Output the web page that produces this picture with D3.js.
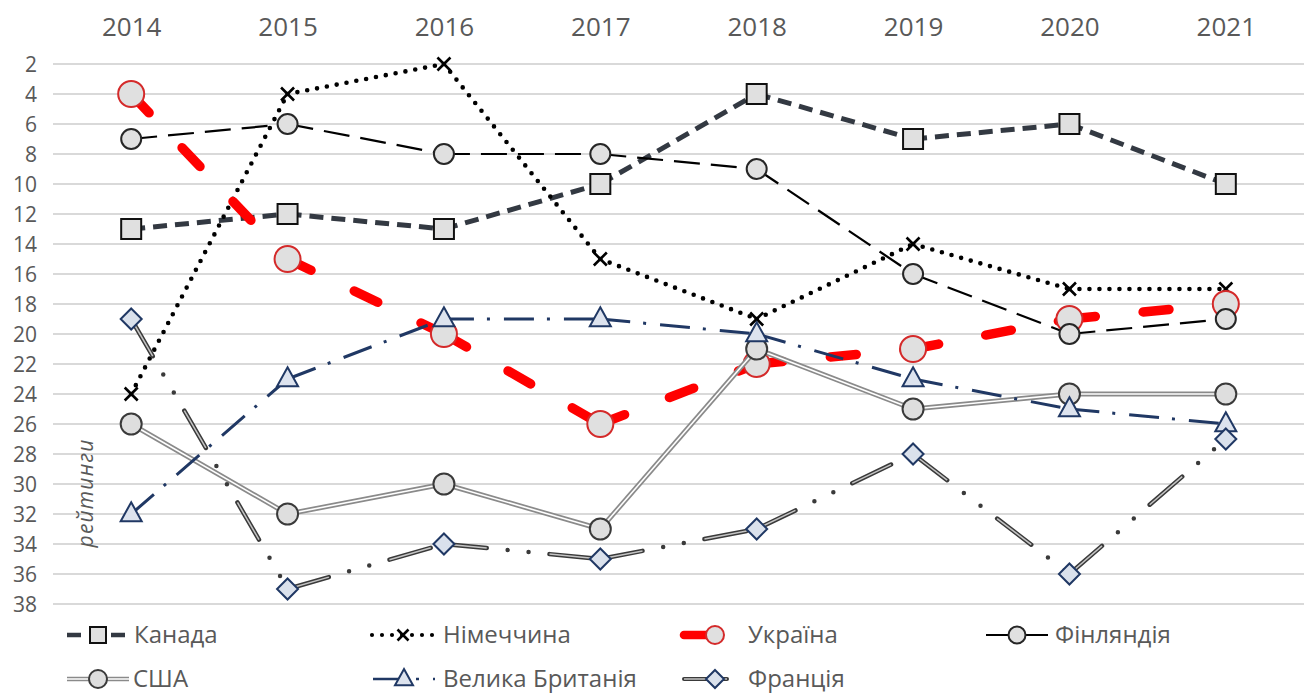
<!DOCTYPE html>
<html><head><meta charset="utf-8">
<script src="https://cdn.jsdelivr.net/npm/d3@7"></script>
<style>
html,body{margin:0;padding:0;background:#fff;}
svg{display:block;font-family:"Open Sans",sans-serif;}
</style></head>
<body>
<svg id="chart" width="1311" height="695"></svg>
<script>
const years = ["2014","2015","2016","2017","2018","2019","2020","2021"];
const yTicks = [2,4,6,8,10,12,14,16,18,20,22,24,26,28,30,32,34,36,38];
const seriesNames = ["Канада","Німеччина","Україна","Фінляндія","США","Велика Британія","Франція"];
const canada  = [13,12,13,10,4,7,6,10];
const germany = [24,4,2,15,19,14,17,17];
const ukraine = [4,15,20,26,22,21,19,18];
const finland = [7,6,8,8,9,16,20,19];
const usa     = [26,32,30,33,21,25,24,24];
const uk      = [32,23,19,19,20,23,25,26];
const france  = [19,37,34,35,33,28,36,27];
const yLabel = "рейтинги";

const values = [canada, germany, ukraine, finland, usa, uk, france];

const styles = [
  {layers:[{stroke:"#333942",width:5,dash:"14,8",cap:"butt"}], marker:"square", mfill:"#e0e0e0", mstroke:"#111", msize:20, lsize:16},
  {layers:[{stroke:"#000",width:4.6,dash:"0,10",cap:"round"}], marker:"x", mstroke:"#000", msize:13, lsize:11},
  {layers:[{stroke:"#ff0000",width:9.5,dash:"26,48",cap:"round"}], marker:"circle", mfill:"#e0e0e0", mstroke:"#d42a2a", msize:13, lsize:9},
  {layers:[{stroke:"#000",width:2.2,dash:"26,11",cap:"butt"}], marker:"circle", mfill:"#e0e0e0", mstroke:"#262626", msize:10, lsize:8.5},
  {layers:[{stroke:"#8a8a8a",width:5,dash:null,cap:"butt"},{stroke:"#fff",width:1.6,dash:null,cap:"butt"}], marker:"circle", mfill:"#dedede", mstroke:"#3a3a3a", msize:10.5, lsize:9},
  {layers:[{stroke:"#203864",width:3,dash:"30,13,3,14",cap:"butt"}], marker:"triangle", mfill:"#dde3ee", mstroke:"#203864", msize:21, lsize:18},
  {layers:[{stroke:"#3a3a3a",width:4.5,dash:"43,21,0,21,0,21",cap:"round"},{stroke:"#c4c4c4",width:1.5,dash:"43,21,0,21,0,21",cap:"butt"}], marker:"diamond", mfill:"#dae1ec", mstroke:"#203864", msize:21, lsize:18}
];

const svg = d3.select("#chart");
const x = d3.scalePoint().domain(years).range([53,1304]).padding(0.5);
const y = d3.scaleLinear().domain([2,38]).range([64,604]);

// gridlines
svg.append("g").selectAll("line").data(yTicks).join("line")
  .attr("x1",53).attr("x2",1304)
  .attr("y1",d=>y(d)).attr("y2",d=>y(d))
  .attr("stroke","#d9d9d9").attr("stroke-width",2);

// top axis
const gx = svg.append("g").attr("transform","translate(0,36)")
  .call(d3.axisTop(x).tickSize(0).tickPadding(0));
gx.select(".domain").remove();
gx.selectAll("text").attr("font-size",26).attr("fill","#595959")
  .attr("font-family","Open Sans").attr("dy","0");

// left axis
const gy = svg.append("g").attr("transform","translate(37,0)")
  .call(d3.axisLeft(y).tickValues(yTicks).tickSize(0).tickPadding(0));
gy.select(".domain").remove();
gy.selectAll("text").attr("font-size",21).attr("fill","#595959")
  .attr("font-family","Open Sans").attr("dy","0.36em");

// y label
svg.append("text").attr("transform","translate(93,493) rotate(-90)")
  .attr("text-anchor","middle").attr("font-size",21).attr("font-style","italic")
  .attr("letter-spacing",1.2)
  .attr("fill","#595959").text(yLabel);

function markerPath(type,s){
  if(type==="square") return `M${-s/2},${-s/2}h${s}v${s}h${-s}Z`;
  if(type==="triangle"){const h=s*0.9; return `M0,${-h*0.62}L${s/2},${h*0.38}L${-s/2},${h*0.38}Z`;}
  if(type==="diamond") return `M0,${-s/2}L${s/2},0L0,${s/2}L${-s/2},0Z`;
  if(type==="x") return `M${-s/2},${-s/2}L${s/2},${s/2}M${s/2},${-s/2}L${-s/2},${s/2}`;
  return null;
}
function drawMarker(g,st,cx,cy,size){
  if(st.marker==="circle"){
    g.append("circle").attr("cx",cx).attr("cy",cy).attr("r",size)
      .attr("fill",st.mfill).attr("stroke",st.mstroke).attr("stroke-width",2);
  } else if(st.marker==="x"){
    g.append("path").attr("transform",`translate(${cx},${cy})`).attr("d",markerPath("x",size))
      .attr("stroke",st.mstroke).attr("stroke-width",2.6).attr("fill","none");
  } else {
    g.append("path").attr("transform",`translate(${cx},${cy})`).attr("d",markerPath(st.marker,size))
      .attr("fill",st.mfill).attr("stroke",st.mstroke).attr("stroke-width",2).attr("stroke-linejoin","miter");
  }
}
const line = d3.line();

values.forEach((vals,si)=>{
  const st = styles[si];
  const g = svg.append("g");
  const pts = vals.map((v,i)=>[x(years[i]),y(v)]);
  st.layers.forEach(L=>{
    for(let i=0;i<pts.length-1;i++){
      g.append("path").attr("d",line([pts[i],pts[i+1]]))
        .attr("fill","none").attr("stroke",L.stroke).attr("stroke-width",L.width)
        .attr("stroke-dasharray",L.dash).attr("stroke-linecap",L.cap);
    }
  });
  pts.forEach(p=>drawMarker(g,st,p[0],p[1],st.msize));
});

// legend: [symbol centre x, row y, text x]
const legendPos = [[98,635,134],[403,635,443],[715,635,748],[1017,635,1055],[98,679,133],[404,679,443],[715,679,748]];
seriesNames.forEach((name,si)=>{
  const st = styles[si];
  const [cx,ly,tx] = legendPos[si];
  const g = svg.append("g");
  st.layers.forEach(L=>{
    g.append("path").attr("d",line([[cx-31,ly],[cx+31,ly]]))
      .attr("fill","none").attr("stroke",L.stroke).attr("stroke-width",L.width*0.9)
      .attr("stroke-dasharray",L.dash)
      .attr("stroke-linecap",L.cap);
  });
  drawMarker(g,st,cx,ly,st.lsize);
  g.append("text").attr("x",tx).attr("y",ly).attr("dy","0.35em")
    .attr("font-size",24).attr("fill","#595959").text(name);
});
</script>
</body></html>
